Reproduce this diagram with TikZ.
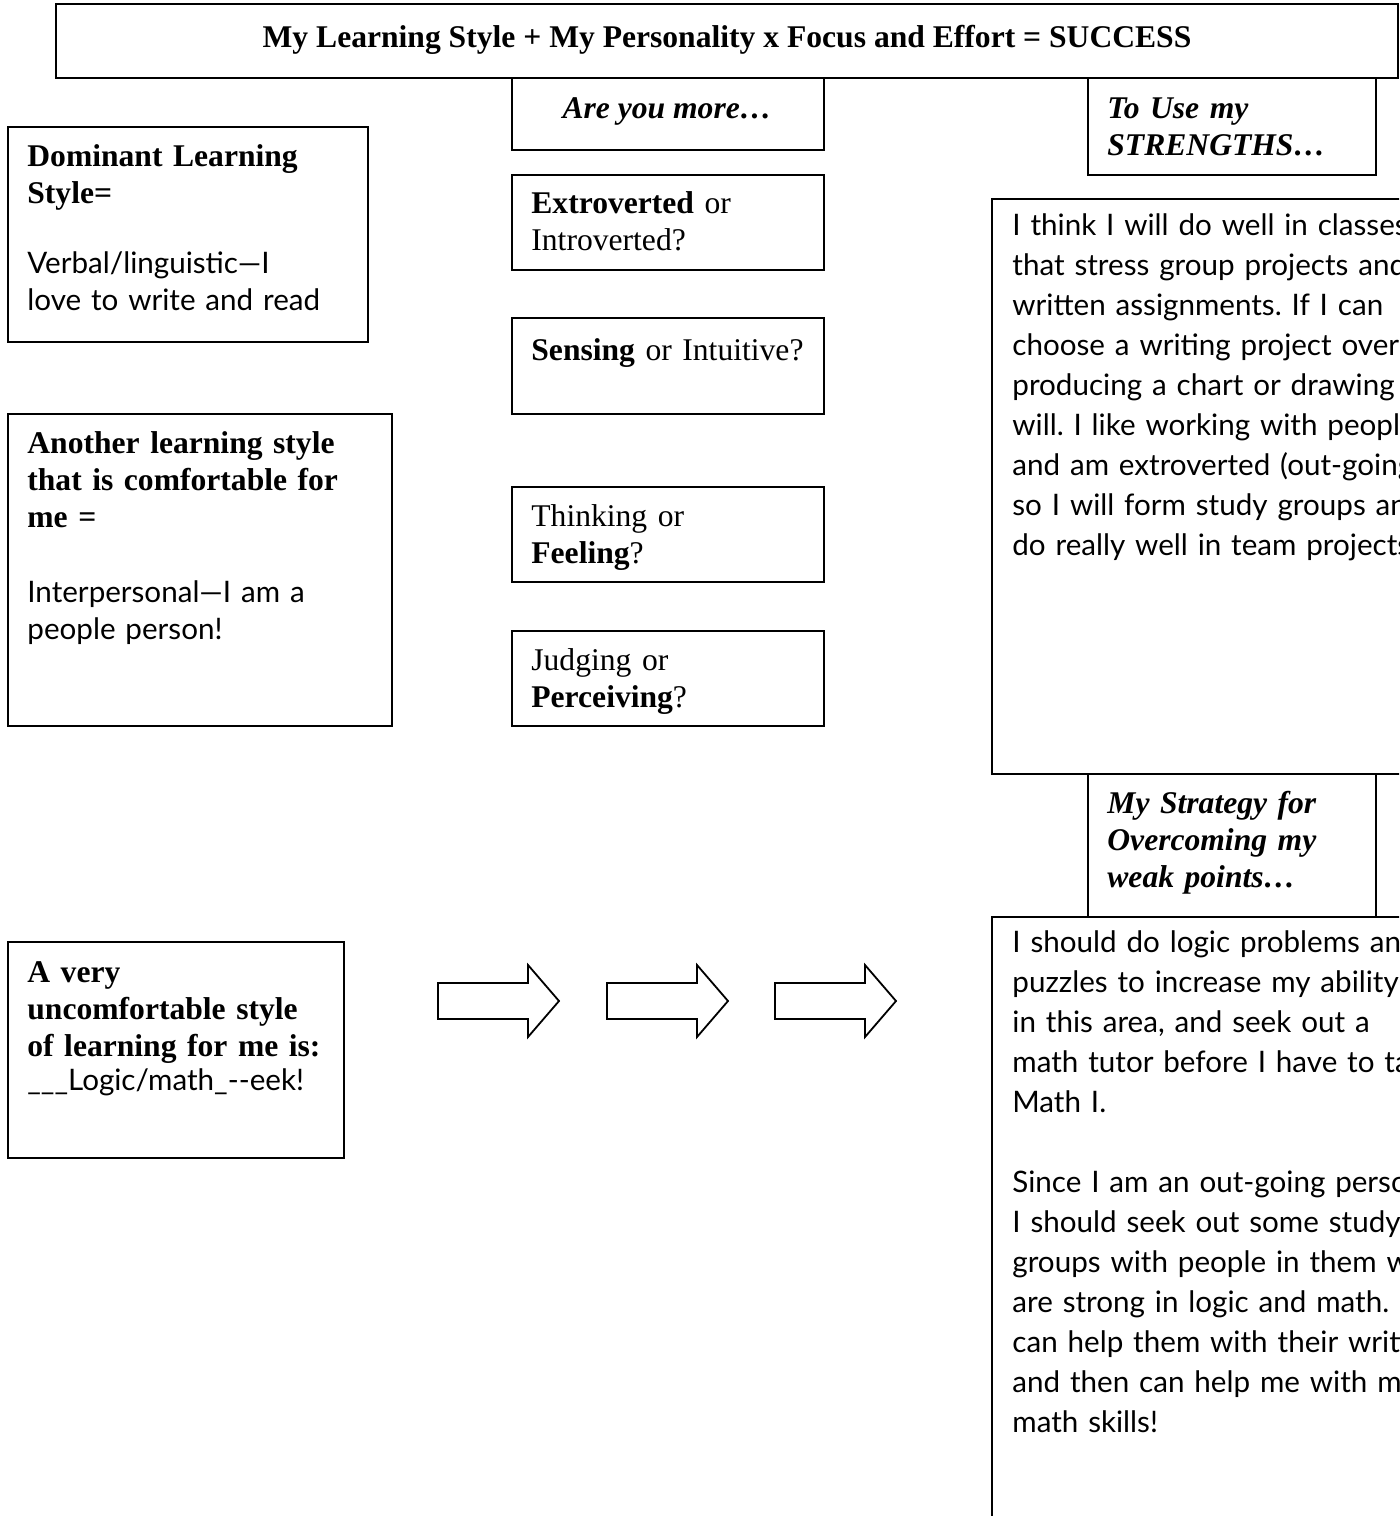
\documentclass[tikz,border=0pt]{standalone}
\usepackage{fontspec}
\setmainfont{Liberation Serif}
\newfontfamily\hand{Lato}
\frenchspacing
\begin{document}
\begin{tikzpicture}[x=0.5pt,y=-0.5pt,
  box/.style={draw,line width=1pt,inner sep=0pt,anchor=north west},
  bt/.style={anchor=base west,inner sep=0pt,text width=300pt,align=left,
    font=\fontsize{15.8}{18.5}\selectfont},
  ht/.style={anchor=base west,inner sep=0pt,text width=300pt,align=left,
    font=\hand\fontsize{14.8}{18.5}\selectfont},
  hr/.style={anchor=base west,inner sep=0pt,text width=300pt,align=left,
    font=\hand\fontsize{14.8}{20}\selectfont},
  arr/.style={draw,line width=0.9pt,line join=miter,fill=white}]
\clip (0,0) rectangle (1399,1516);
% boxes
\node[box,minimum width=671pt,minimum height=37pt] (title) at (55,3) {};
\node[box,minimum width=156pt,minimum height=36pt] (are) at (511,77) {};
\node[box,minimum width=144pt,minimum height=48.5pt] (touse) at (1087,77) {};
\node[box,minimum width=180pt,minimum height=107.5pt] (dom) at (7,126) {};
\node[box,minimum width=156pt,minimum height=47.5pt] (ext) at (511,174) {};
\node[box,minimum width=156pt,minimum height=48pt] (sens) at (511,317) {};
\node[box,minimum width=192pt,minimum height=156pt] (another) at (7,413) {};
\node[box,minimum width=156pt,minimum height=47.5pt] (think) at (511,486) {};
\node[box,minimum width=156pt,minimum height=47.5pt] (judge) at (511,630) {};
\node[box,minimum width=215pt,minimum height=287.5pt] (strtext) at (991,198) {};
\node[box,minimum width=144pt,minimum height=71.5pt] (strategy) at (1087,773) {};
\node[box,minimum width=215pt,minimum height=310pt] (weak) at (991,916) {};
\node[box,minimum width=168pt,minimum height=108pt] (unc) at (7,941) {};
% texts
\node[anchor=base,inner sep=0pt,font=\fontsize{15.8}{18.5}\selectfont\bfseries] (titletxt) at (727,47)
  {My Learning Style + My Personality x Focus and Effort = SUCCESS};
\node[anchor=base,inner sep=0pt,font=\fontsize{15.8}{18.5}\selectfont\bfseries\itshape] (aretxt) at (667,118)
  {Are you more…};
\node[bt,font=\fontsize{15.8}{18.5}\selectfont\bfseries\itshape] (tousetxt) at (1107,118)
  {To Use my\\STRENGTHS…};
\node[bt,font=\fontsize{15.8}{18.5}\selectfont\bfseries] (domtxt) at (27,166)
  {Dominant Learning\\Style=};
\node[ht] (domhand) at (27,273) {Verbal/linguistic—I\\love to write and read};
\node[bt] (exttxt) at (531,213) {\textbf{Extroverted} or\\Introverted?};
\node[bt] (senstxt) at (531,360) {\textbf{Sensing} or Intuitive?};
\node[bt,font=\fontsize{15.8}{18.5}\selectfont\bfseries] (anothertxt) at (27,453)
  {Another learning style\\that is comfortable for\\me =};
\node[ht] (anotherhand) at (27,602) {Interpersonal—I am a\\people person!};
\node[bt] (thinktxt) at (531,526) {Thinking or\\\textbf{Feeling}?};
\node[bt] (judgetxt) at (531,670) {Judging or\\\textbf{Perceiving}?};
\node[hr] (strhand) at (1012,235) {I think I will do well in classes\\that stress group projects and\\written assignments. If I can\\choose a writing project over\\producing a chart or drawing I\\will. I like working with people\\and am extroverted (out-going)\\so I will form study groups and\\do really well in team projects.};
\node[bt,font=\fontsize{15.8}{18.5}\selectfont\bfseries\itshape] (strategytxt) at (1107,813)
  {My Strategy for\\Overcoming my\\weak points…};
\node[hr] (weakhand) at (1012,952) {I should do logic problems and\\puzzles to increase my ability\\in this area, and seek out a\\math tutor before I have to take\\Math I.\\[20pt]Since I am an out-going person,\\I should seek out some study\\groups with people in them who\\are strong in logic and math. I\\can help them with their writing\\and then can help me with my\\math skills!};
\node[bt,font=\fontsize{15.8}{18.5}\selectfont\bfseries] (unctxt) at (27,982)
  {A very\\uncomfortable style\\of learning for me is:};
\node[ht] (unchand) at (27,1090) {\_\_\_Logic/math\_--eek!};
% block arrows
\foreach \dx/\nm in {0/a1,169/a2,337/a3}{
  \draw[arr] (438+\dx,983) -- (528+\dx,983) -- (528+\dx,965) -- (559+\dx,1001)
    -- (528+\dx,1037) -- (528+\dx,1019) -- (438+\dx,1019) -- cycle;
}
\end{tikzpicture}
\end{document}
